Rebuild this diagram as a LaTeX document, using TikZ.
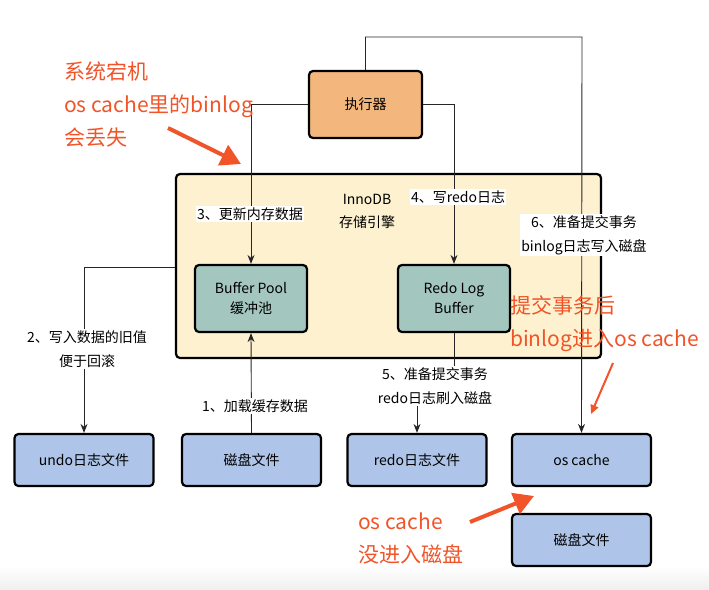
\documentclass[tikz,border=0pt]{standalone}
\usepackage{fontspec}
\setmainfont{Noto Sans CJK SC}
\usetikzlibrary{arrows.meta}

\definecolor{execorange}{RGB}{243,183,125}
\definecolor{engineyellow}{RGB}{253,241,208}
\definecolor{bufteal}{RGB}{163,198,190}
\definecolor{fileblue}{RGB}{174,196,232}
\definecolor{noteorange}{RGB}{240,84,40}

\tikzset{
    box/.style={draw=black, line width=2.2pt, rounded corners=4pt, align=center,
        font=\fontsize{14}{20}\selectfont},
    filebox/.style={box, fill=fileblue, minimum width=139pt, minimum height=52pt},
    bufbox/.style={box, fill=bufteal, minimum width=112pt, minimum height=67pt},
    conn/.style={draw=black!85, line width=0.9pt},
    arr/.style={conn, -{Stealth[length=9pt, width=7pt]}},
    steplabel/.style={fill=white, inner sep=1.5pt, align=center,
        font=\fontsize{14}{24}\selectfont},
    note/.style={text=noteorange, align=left, anchor=west, inner sep=0pt,
        font=\fontsize{21}{33}\selectfont},
    notearrow/.style={draw=noteorange, line width=4pt,
        -{Triangle[length=20pt, width=22pt]}}
}

\begin{document}
\begin{tikzpicture}[x=1pt, y=-1pt]
    \useasboundingbox (0,0) rectangle (709,589);
    \shade[top color=white, bottom color=black!6] (0,566) rectangle (709,589);

    % storage engine and its buffers
    \node[box, fill=engineyellow, minimum width=425pt, minimum height=184pt] (innodb) at (388.5,266) {};
    \node[align=center, font=\fontsize{14}{23}\selectfont] (innodbname) at (367,211) {InnoDB\\存储引擎};
    \node[bufbox] (bufpool) at (251,298.5) {Buffer Pool\\缓冲池};
    \node[bufbox] (redobuf) at (454,298.5) {Redo Log\\Buffer};
    \node[box, fill=execorange, minimum width=113pt, minimum height=67pt] (exec) at (365.5,104.5) {执行器};

    % files
    \node[filebox] (undofile) at (84,460) {undo日志文件};
    \node[filebox] (diskfile) at (251.5,460) {磁盘文件};
    \node[filebox] (redofile) at (417,460) {redo日志文件};
    \node[filebox] (oscache) at (581.5,460) {os cache};
    \node[filebox] (osdisk) at (581.5,540) {磁盘文件};

    \coordinate (topturn) at (582,37);
    \coordinate (undoturn) at (175,267);

    % connectors
    \draw[arr] (exec.north) |- (topturn) -- (oscache.north);
    \draw[arr] (exec.west) -| (bufpool.north);
    \draw[arr] (exec.east) -| (redobuf.north);
    \draw[arr] (undoturn) -| (undofile.north);
    \draw[arr] (diskfile.north) -- (bufpool.south);
    \draw[arr] (redobuf.south) -- ++(0,52) -| (redofile.north);

    % step labels
    \node[steplabel] (step1) at (255,406) {1、加载缓存数据};
    \node[steplabel] (step2) at (87,349) {2、写入数据的旧值\\便于回滚};
    \node[steplabel] (step3) at (250,214) {3、更新内存数据};
    \node[steplabel] (step4) at (458,197) {4、写redo日志};
    \node[steplabel] (step5) at (435,386) {5、准备提交事务\\redo日志刷入磁盘};
    \node[steplabel] (step6) at (584,235) {6、准备提交事务\\binlog日志写入磁盘};

    % orange remarks
    \node[note] (crashnote) at (64,104) {系统宕机\\os cache里的binlog\\会丢失};
    \node[note] (commitnote) at (510,324) {提交事务后\\binlog进入os cache};
    \node[note] (flushnote) at (358,538) {os cache\\没进入磁盘};
    \draw[notearrow] (168,128) -- (241,164);
    \draw[notearrow] (470,522) -- (534,496);
    \draw[draw=noteorange, line width=2pt, -{Triangle[length=9pt, width=8pt]}] (613,363) -- (591,414);
\end{tikzpicture}
\end{document}
